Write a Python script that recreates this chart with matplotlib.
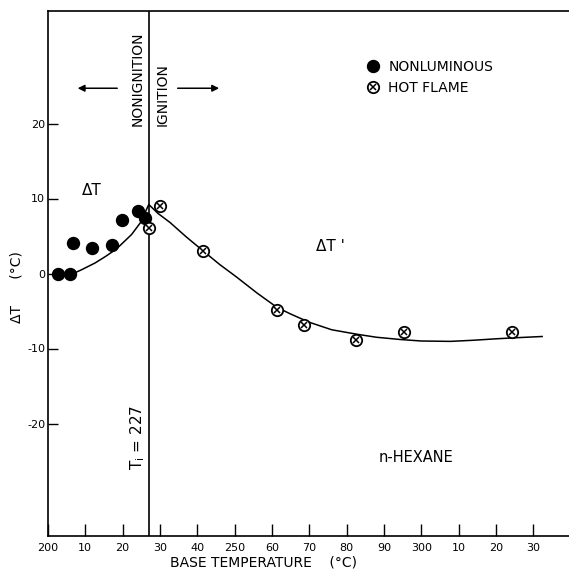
import matplotlib.pyplot as plt
import numpy as np

plt.rcParams['font.family'] = ['DejaVu Sans']

# base temperature (deg C) and temperature rise (deg C)
nonlum_T = [202.8, 205.9, 206.8, 211.7, 217.2, 219.9, 224.2, 226.0]
nonlum_dT = [0.0, 0.0, 4.1, 3.4, 3.8, 7.2, 8.3, 7.4]

hot_T = [227.1, 230.0, 241.6, 261.3, 268.6, 282.4, 295.3, 324.3]
hot_dT = [6.1, 9.0, 3.0, -4.8, -6.8, -8.9, -7.8, -7.8]

# hand-drawn trend line through both regimes
curve_T = [205.9, 209.0, 212.6, 215.5, 218.4, 222.4, 224.8, 227.0,
           229.5, 232.7, 237.0, 241.6, 246.0, 250.6, 256.0, 261.3, 265.0,
           270.0, 276.0, 282.8, 288.0, 294.4, 300.0, 307.8, 314.0, 320.3,
           326.0, 332.4]
curve_dT = [-0.2, 0.5, 1.4, 2.3, 3.3, 5.2, 6.8, 9.2,
            8.0, 6.8, 4.9, 3.0, 1.2, -0.5, -2.6, -4.5, -5.4,
            -6.5, -7.5, -8.1, -8.5, -8.8, -9.0, -9.05, -8.9, -8.7,
            -8.55, -8.4]

T_ign = 227

xticks = np.arange(200, 331, 10)
xticklabels = ["200", "10", "20", "30", "40", "250", "60", "70", "80", "90",
               "300", "10", "20", "30"]
yticks = [-20, -10, 0, 10, 20]

fig = plt.figure(figsize=(5.69, 5.73), dpi=100)
ax = fig.add_axes([48 / 569, 37 / 573, 521 / 569, 525 / 573])

ax.plot(curve_T, curve_dT, color="black", lw=1.1, zorder=2)
ax.axvline(T_ign, color="black", lw=1.2, zorder=1)

dots, = ax.plot(nonlum_T, nonlum_dT, "o", color="black", ms=8.6, zorder=3)
rings, = ax.plot(hot_T, hot_dT, "o", mfc="white", mec="black", mew=1.3,
                 ms=8.2, zorder=3)
crosses, = ax.plot(hot_T, hot_dT, "x", color="black", mew=1.1, ms=4.2, zorder=4)

ax.legend([dots, (rings, crosses)], ["NONLUMINOUS", "HOT FLAME"],
          loc="upper left", bbox_to_anchor=(0.597, 0.92), frameon=False,
          fontsize=10, handlelength=1.0, handletextpad=0.6, borderpad=0,
          labelspacing=0.5)

ax.set_xlim(200, 339.6)
ax.set_ylim(-35, 35)
ax.set_xticks(xticks)
ax.set_xticklabels(xticklabels, fontsize=8)
ax.set_yticks(yticks)
ax.set_yticklabels([str(v) for v in yticks], fontsize=8)
ax.tick_params(axis="x", direction="in", length=9, width=1, pad=5)
ax.tick_params(axis="y", direction="in", length=7, width=1, pad=2)
ax.spines["right"].set_visible(False)
for s in ("left", "top", "bottom"):
    ax.spines[s].set_linewidth(1.2)

# regime labels on either side of the ignition line
ax.text(223.9, 19.7, "NONIGNITION", rotation=90, ha="center", va="bottom",
        fontsize=10)
ax.text(230.8, 19.7, "IGNITION", rotation=90, ha="center", va="bottom",
        fontsize=10)
ax.annotate("", xy=(207.2, 24.7), xytext=(219.3, 24.7),
            arrowprops=dict(arrowstyle="-|>", color="black", lw=1.1,
                            mutation_scale=10))
ax.annotate("", xy=(246.6, 24.7), xytext=(234.0, 24.7),
            arrowprops=dict(arrowstyle="-|>", color="black", lw=1.1,
                            mutation_scale=10))

ax.text(211.8, 11.1, "ΔT", ha="center", va="center", fontsize=11)
ax.text(275.6, 3.6, "ΔT '", ha="center", va="center", fontsize=11)
ax.text(298.7, -24.6, "n-HEXANE", ha="center", va="center", fontsize=10.5)
ax.text(223.9, -21.8, r"$\mathregular{T_i}$ = 227", rotation=90,
        ha="center", va="center", fontsize=11)

fig.text(17 / 569, 1 - 287 / 573, "ΔT      (°C)", rotation=90,
         ha="center", va="center", fontsize=10)
fig.text(263 / 569, 1 - 562 / 573, "BASE TEMPERATURE    (°C)",
         ha="center", va="center", fontsize=10)

fig.savefig("out.png", dpi=100)
